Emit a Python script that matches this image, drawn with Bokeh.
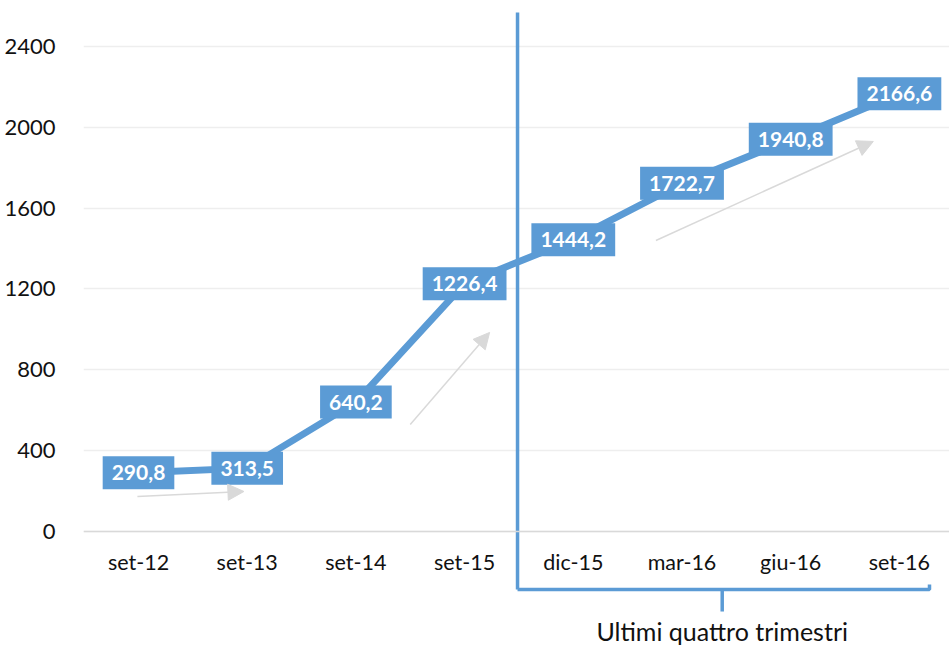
from bokeh.plotting import figure
from bokeh.models import Range1d, FixedTicker, Span, Arrow, NormalHead, ColumnDataSource
from bokeh.core.properties import value
from bokeh.embed import file_html
from bokeh.resources import INLINE

# ---- data ----
categories = ["set-12", "set-13", "set-14", "set-15", "dic-15", "mar-16", "giu-16", "set-16"]
values = [290.8, 313.5, 640.2, 1226.4, 1444.2, 1722.7, 1940.8, 2166.6]
value_labels = ["290,8", "313,5", "640,2", "1226,4", "1444,2", "1722,7", "1940,8", "2166,6"]
y_ticks = [0, 400, 800, 1200, 1600, 2000, 2400]
bracket_label = "Ultimi quattro trimestri"

# decorative trend arrows (x in category-index units, y in data units)
arrow_x_start = [-0.01, 2.50, 4.76]
arrow_y_start = [173, 529, 1440]
arrow_x_end = [0.97, 3.23, 6.76]
arrow_y_end = [198, 985, 1930]

# divider / bracket (category-index units and data units)
divider_x = 3.487
divider_top = 2568
bracket_y = -287
bracket_end_x = 7.277
bracket_end_top = -262
bracket_mid_x = 5.37
bracket_tick_bottom = -396
cat_label_y = -150
bracket_label_y = -494

BLUE = "#5B9BD5"
FONT = "Lato"

x_idx = list(range(len(categories)))

p = figure(width=949, height=648, output_backend="svg", toolbar_location=None,
           x_range=Range1d(-0.506, 7.461), y_range=Range1d(-579.0, 2627.6),
           min_border_left=83, min_border_right=0, min_border_top=0, min_border_bottom=0)
p.outline_line_color = None
p.background_fill_color = "white"
p.border_fill_color = "white"

p.xaxis.visible = False
p.xgrid.visible = False
p.yaxis.ticker = FixedTicker(ticks=y_ticks)
p.yaxis.axis_line_color = None
p.yaxis.major_tick_line_color = None
p.yaxis.minor_tick_line_color = None
p.yaxis.major_label_standoff = 22
p.yaxis.major_label_text_font = FONT
p.yaxis.major_label_text_font_size = "22px"
p.yaxis.major_label_text_color = "#111111"
p.ygrid.ticker = FixedTicker(ticks=y_ticks)
p.ygrid.grid_line_color = "#EEEEEE"
p.ygrid.grid_line_width = 1.5

p.add_layout(Span(location=0, dimension="width", line_color="#D9D9D9", line_width=1.5))

# trend arrows
for xs, ys, xe, ye in zip(arrow_x_start, arrow_y_start, arrow_x_end, arrow_y_end):
    p.add_layout(Arrow(x_start=xs, y_start=ys, x_end=xe, y_end=ye,
                       line_color="#D9D9D9", line_width=1.5,
                       end=NormalHead(size=16, fill_color="#D9D9D9", line_color="#D9D9D9")))

# divider and bracket
p.line([divider_x, divider_x], [divider_top, bracket_y], line_color=BLUE, line_width=3.5)
p.line([divider_x, bracket_end_x, bracket_end_x], [bracket_y, bracket_y, bracket_end_top],
       line_color=BLUE, line_width=3.5)
p.line([bracket_mid_x, bracket_mid_x], [bracket_y, bracket_tick_bottom], line_color=BLUE, line_width=3.5)

# main line
src = ColumnDataSource(dict(x=x_idx, y=values, lab=value_labels))
p.line("x", "y", source=src, line_color=BLUE, line_width=7, line_join="miter")
p.text("x", "y", text="lab", source=src, text_font=value(FONT), text_font_style="bold",
       text_font_size="21px", text_color="white", text_align="center", text_baseline="middle",
       background_fill_color=BLUE, padding=dict(left=9, right=9, top=9, bottom=9))

# category labels
csrc = ColumnDataSource(dict(x=x_idx, y=[cat_label_y] * len(categories), lab=categories))
p.text("x", "y", text="lab", source=csrc, text_font=value(FONT), text_font_size="21.5px",
       text_color="#111111", text_align="center", text_baseline="alphabetic")

# bracket label
p.text(x=[bracket_mid_x], y=[bracket_label_y], text=[bracket_label], text_font=value(FONT),
       text_font_size="25px", text_color="#111111", text_align="center", text_baseline="alphabetic")

open("out.html", "w").write(file_html(p, INLINE))
